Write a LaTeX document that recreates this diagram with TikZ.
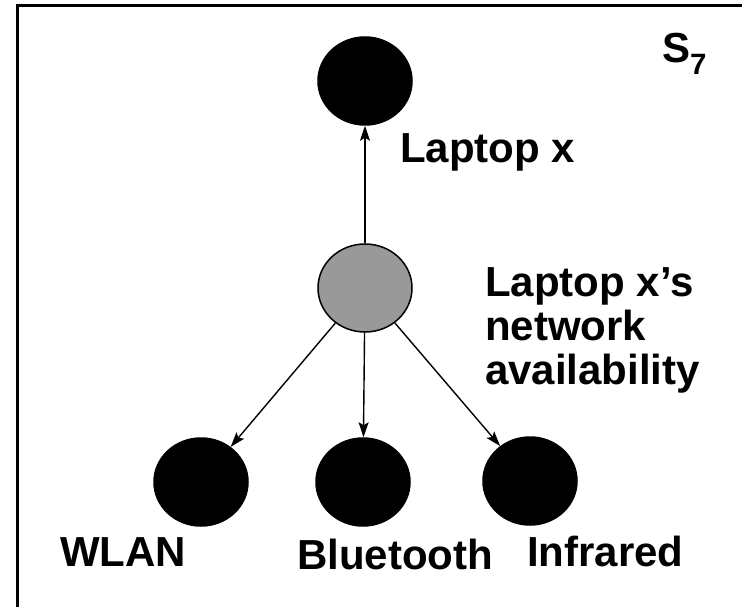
\documentclass[tikz,border=0pt]{standalone}
\usepackage{fontspec}
\setmainfont{Liberation Sans}
\usetikzlibrary{arrows.meta, positioning, shapes.geometric}

\begin{document}
\begin{tikzpicture}[x=1pt,y=-1pt,
    bnode/.style={ellipse,draw=black,line width=1.5pt,minimum width=94pt,minimum height=88pt,inner sep=0pt},
    lbl/.style={font=\fontsize{42}{44}\selectfont\bfseries,inner sep=0pt,anchor=base west,align=left},
    edge/.style={line width=1.4pt,-{Stealth[length=15pt,width=10pt,inset=3pt]}}]

    \useasboundingbox (0,0) rectangle (742,607);

    % frame
    \draw[line width=3pt] (742,6) -- (17,6) -- (17,607);

    % nodes
    \node[bnode,fill=black] (laptop) at (365,81) {};
    \node[bnode,fill=black!40] (avail) at (365,288) {};
    \node[bnode,fill=black] (wlan) at (201,482) {};
    \node[bnode,fill=black] (bt) at (363,482) {};
    \node[bnode,fill=black] (ir) at (530,481) {};

    % edges
    \draw[edge] (avail) -- (laptop);
    \draw[edge] (avail) -- (wlan);
    \draw[edge] (avail) -- (bt);
    \draw[edge] (avail) -- (ir);

    % labels (base of multi-line node = last line)
    \node[lbl] (s7) at (662,63) {S\textsubscript{7}};
    \node[lbl] (laptoplbl) at (400,163) {Laptop x};
    \node[lbl] (availlbl) at (485,384) {Laptop x’s\\network\\availability};
    \node[lbl] (wlanlbl) at (60,566) {WLAN};
    \node[lbl] (btlbl) at (297,569) {Bluetooth};
    \node[lbl] (irlbl) at (527,566) {Infrared};

\end{tikzpicture}
\end{document}
